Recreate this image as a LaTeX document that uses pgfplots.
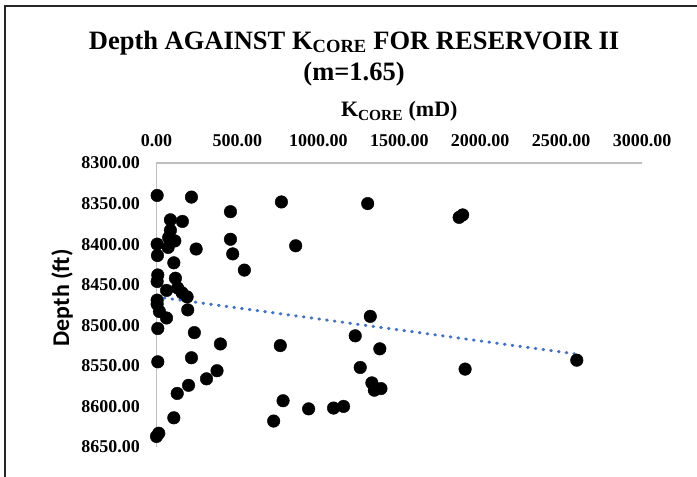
\documentclass[border=0pt]{standalone}
\usepackage{fontspec}
\setmainfont{Liberation Serif}
\newfontfamily\labelsans{Carlito}
\usepackage{pgfplots}
\pgfplotsset{compat=1.18}
\definecolor{trendblue}{RGB}{68,114,196}
\definecolor{axgray}{RGB}{191,191,191}
\begin{document}
\begin{tikzpicture}[x=1pt,y=1pt]
\useasboundingbox (0,0) rectangle (697,477);
\draw[line width=1.4pt, color=black!85] (5,-10) -- (5,471) -- (710,471);
\begin{axis}[
  at={(156.5pt,30pt)}, anchor=south west,
  scale only axis, width=485.5pt, height=284pt,
  xmin=0, xmax=3000, ymin=8300, ymax=8650,
  y dir=reverse,
  axis x line*=top, axis y line*=left,
  axis line style={color=axgray, line width=1.3pt, -},
  xtick={0,500,...,3000}, ytick={8300,8350,...,8650},
  major tick length=0pt,
  /pgf/number format/.cd, fixed, fixed zerofill, precision=2, 1000 sep={}, assume math mode=true,
  /pgfplots/.cd,
  ticklabel style={font=\fontsize{18}{20}\selectfont\bfseries, inner sep=0pt},
  xticklabel style={anchor=south, yshift=16pt},
  yticklabel style={anchor=east, xshift=-16.5pt},
  title={Depth AGAINST K\textsubscript{CORE} FOR RESERVOIR II\\(m=1.65)},
  title style={at={(axis description cs:0.407,1.445)}, anchor=north, align=center,
    font=\fontsize{26.5}{31}\selectfont\bfseries, inner sep=0pt},
  xlabel={K\textsubscript{CORE} (mD)},
  xlabel style={at={(axis description cs:0.5,1.162)}, anchor=base,
    font=\fontsize{22}{24}\selectfont\bfseries, inner sep=0pt},
  ylabel={Depth (ft)},
  ylabel style={at={(axis description cs:-0.1946,0.525)}, anchor=center, rotate=0,
    font=\labelsans\fontsize{24}{26}\selectfont\bfseries, inner sep=0pt},
  clip=false,
]
\addplot[only marks, mark=*, mark size=6.3pt, mark options={fill=black, draw=black}] coordinates {
(4,8340) (216,8342) (772,8348) (1305,8350) (457,8360) (86,8370) (160,8372)
(86,8383) (75,8392) (4,8400) (113,8396) (72,8404) (245,8406) (457,8394)
(860,8402) (471,8412) (6,8414) (107,8423) (543,8432) (8,8438) (4,8446)
(117,8442) (62,8457) (131,8454) (158,8460) (189,8465) (4,8469) (4,8474)
(193,8481) (18,8483) (62,8491) (8,8504) (234,8509) (395,8523) (765,8525)
(8,8545) (216,8540) (374,8556) (309,8566) (198,8574) (128,8584) (782,8593)
(940,8603) (1094,8602) (1156,8600) (724,8618) (107,8614) (14,8633) (0,8637)
(1321,8489) (1228,8513) (1380,8529) (1259,8552) (1331,8571) (1346,8580)
(1387,8578) (1907,8554) (2597,8543) (1870,8367) (1892,8364)
};
\addplot[color=trendblue, line width=3pt, line cap=round, dash pattern=on 0.8pt off 7pt] coordinates {
(0,8465) (2597,8535.5)
};
\end{axis}
\end{tikzpicture}
\end{document}
